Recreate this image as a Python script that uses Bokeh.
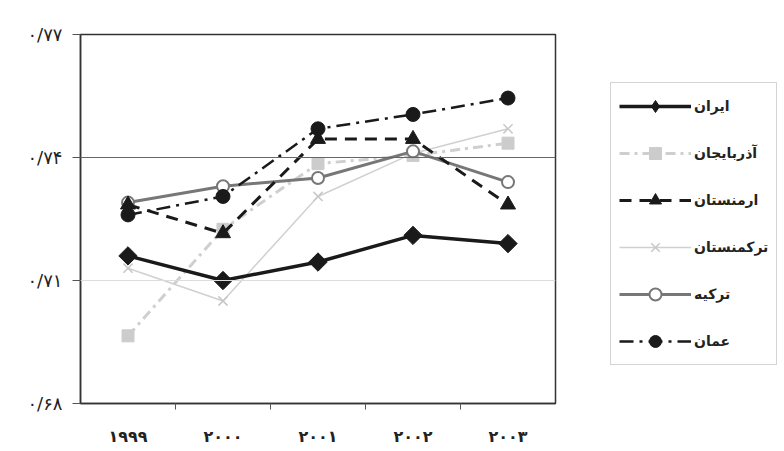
import math
from bokeh.plotting import figure
from bokeh.models import FixedTicker, Legend, LegendItem, Span
from bokeh.embed import file_html
from bokeh.resources import INLINE

years = ["۱۹۹۹", "۲۰۰۰", "۲۰۰۱", "۲۰۰۲", "۲۰۰۳"]
y_ticks = [0.68, 0.71, 0.74, 0.77]
y_tick_labels = ["۰/۶۸", "۰/۷۱", "۰/۷۴", "۰/۷۷"]

iran = [0.716, 0.710, 0.7145, 0.721, 0.719]
azerbaijan = [0.6965, 0.7225, 0.7385, 0.7405, 0.7435]
armenia = [0.7285, 0.7215, 0.7445, 0.7445, 0.7285]
turkmenistan = [0.713, 0.705, 0.7305, 0.741, 0.747]
turkey = [0.729, 0.733, 0.735, 0.7415, 0.734]
oman = [0.726, 0.7305, 0.747, 0.7505, 0.7545]

names = ["ایران", "آذربایجان", "ارمنستان", "ترکمنستان", "ترکیه", "عمان"]

x = list(range(len(years)))

p = figure(width=776, height=440, output_backend="svg", toolbar_location=None,
           x_range=(-0.5, 4.5), y_range=(0.68, 0.77),
           frame_width=475, frame_height=369,
           min_border_left=80, min_border_top=34, min_border_right=220, min_border_bottom=37)
p.background_fill_color = "white"
p.border_fill_color = "white"
p.outline_line_color = "#333333"
p.outline_line_width = 1.5
p.xgrid.visible = False
p.ygrid.visible = False

p.add_layout(Span(location=0.74, dimension="width", line_color="#666666", line_width=1))
p.add_layout(Span(location=0.71, dimension="width", line_color="#dddddd", line_width=1))

# axes
p.xaxis.ticker = FixedTicker(ticks=x, minor_ticks=[0.5, 1.5, 2.5, 3.5])
p.xaxis.major_label_overrides = {i: years[i] for i in x}
p.xaxis.major_tick_out = 0
p.xaxis.major_tick_in = 0
p.xaxis.minor_tick_out = 6
p.xaxis.minor_tick_in = 0
p.xaxis.minor_tick_line_color = "#555555"
p.xaxis.axis_line_color = "#333333"
p.xaxis.axis_line_width = 1.5
p.xaxis.major_label_standoff = 17
p.xaxis.major_label_text_font = "DejaVu Sans"
p.xaxis.major_label_text_font_style = "bold"
p.xaxis.major_label_text_font_size = "16px"
p.xaxis.major_label_text_color = "#222222"

p.yaxis.ticker = FixedTicker(ticks=y_ticks, minor_ticks=[])
p.yaxis.major_label_overrides = {t: l for t, l in zip(y_ticks, y_tick_labels)}
p.yaxis.major_tick_out = 8
p.yaxis.major_tick_in = 0
p.yaxis.major_tick_line_color = "#555555"
p.yaxis.axis_line_color = "#333333"
p.yaxis.axis_line_width = 1.5
p.yaxis.major_label_standoff = 10
p.yaxis.major_label_text_font = "DejaVu Sans"
p.yaxis.major_label_text_font_size = "18px"
p.yaxis.major_label_text_color = "#222222"

items = []

# Turkmenistan
l = p.line(x, turkmenistan, line_color="#d0d0d0", line_width=1.5)
m = p.scatter(x, turkmenistan, marker="x", size=13, line_color="#c8c8c8", line_width=1.5)
tk = (l, m)
# Azerbaijan
l = p.line(x, azerbaijan, line_color="#cfcfcf", line_width=3, line_dash="10 5 3 5")
m = p.scatter(x, azerbaijan, marker="square", size=12, fill_color="#cccccc", line_color="#cccccc")
az = (l, m)
# Turkey
l = p.line(x, turkey, line_color="#777777", line_width=3)
m = p.scatter(x, turkey, marker="circle", size=12, fill_color="white", line_color="#777777", line_width=2)
tr = (l, m)
# Armenia
l = p.line(x, armenia, line_color="#1a1a1a", line_width=3, line_dash="12 8")
m = p.scatter(x, armenia, marker="triangle", size=15, fill_color="#1a1a1a", line_color="#1a1a1a")
ar = (l, m)
# Oman
l = p.line(x, oman, line_color="#1a1a1a", line_width=2.5, line_dash="14 6 3 6")
m = p.scatter(x, oman, marker="circle", size=14, fill_color="#1a1a1a", line_color="#1a1a1a")
om = (l, m)
# Iran
l = p.line(x, iran, line_color="#1a1a1a", line_width=3.5)
m = p.scatter(x, iran, marker="square", angle=math.pi / 4, size=13, fill_color="#1a1a1a", line_color="#1a1a1a")
# legend-only proxy (no visible data) so the legend shows a diamond too
proxy = p.scatter([float("nan")], [float("nan")], marker="diamond", size=19,
                  fill_color="#1a1a1a", line_color="#1a1a1a")
ir = (l, proxy)

for name, rs in zip(names, [ir, az, ar, tk, tr, om]):
    items.append(LegendItem(label=name, renderers=list(rs)))

legend = Legend(items=items, location=(55, 38), orientation="vertical")
legend.glyph_width = 72
legend.glyph_height = 30
legend.label_height = 30
legend.spacing = 17
legend.padding = 8
legend.margin = 0
legend.label_standoff = 3
legend.label_text_font = "DejaVu Sans"
legend.label_text_font_style = "bold"
legend.label_text_font_size = "14px"
legend.label_text_color = "#222222"
legend.border_line_color = "#aaaaaa"
legend.border_line_width = 1
legend.background_fill_color = "white"
legend.background_fill_alpha = 1
p.add_layout(legend, "right")

open("out.html", "w").write(file_html(p, INLINE))
